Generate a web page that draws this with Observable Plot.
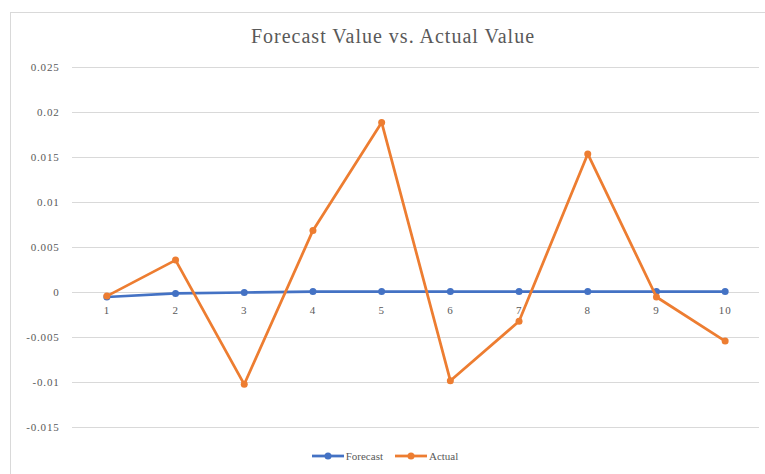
<!DOCTYPE html>
<html>
<head>
<meta charset="utf-8">
<script src="https://cdn.jsdelivr.net/npm/d3@7"></script>
<script src="https://cdn.jsdelivr.net/npm/@observablehq/plot@0.6"></script>
<style>
  html, body { margin: 0; padding: 0; background: #fff; }
  #wrap { position: relative; width: 765px; height: 474px; overflow: hidden; font-family: "Liberation Serif", "DejaVu Serif", serif; }
  #frame { position: absolute; left: 10px; top: 12px; width: 800px; height: 500px; border: 1px solid #d9d9d9; box-sizing: border-box; }
  #title { position: absolute; left: 0; width: 786px; top: 25px; text-align: center; font-size: 20px; color: #595959; letter-spacing: 1px; }
  #chart { position: absolute; left: 0; top: 0; }
  #chart svg text { font-family: "Liberation Serif", serif; letter-spacing: 0.8px; }
  #legend { position: absolute; top: 450px; left: 0; width: 770px; display: flex; justify-content: center; gap: 12px; font-size: 11px; color: #595959; align-items: center; }
  .item { display: flex; align-items: center; gap: 2px; }
</style>
</head>
<body>
<div id="wrap">
  <div id="frame"></div>
  <div id="title">Forecast Value vs. Actual Value</div>
  <div id="chart"></div>
  <div id="legend"></div>
</div>
<script>
const categories = ["1", "2", "3", "4", "5", "6", "7", "8", "9", "10"];
const forecast = [-0.0005, -0.0001, 0.0000, 0.0001, 0.0001, 0.0001, 0.0001, 0.0001, 0.0001, 0.0001];
const actual = [-0.0004, 0.0036, -0.0102, 0.0069, 0.0189, -0.0098, -0.0032, 0.0154, -0.0005, -0.0054];
const yTicks = [-0.015, -0.01, -0.005, 0, 0.005, 0.01, 0.015, 0.02, 0.025];
const seriesNames = ["Forecast", "Actual"];
const seriesColors = ["#4472C4", "#ED7D31"];

const rows = [];
categories.forEach((c, i) => {
  rows.push({cat: c, series: "Forecast", value: forecast[i]});
  rows.push({cat: c, series: "Actual", value: actual[i]});
});
const fRows = rows.filter(d => d.series === "Forecast");
const aRows = rows.filter(d => d.series === "Actual");

const fmt = d => String(+d.toFixed(3));

const chart = Plot.plot({
  width: 765,
  height: 474,
  marginLeft: 72,
  marginRight: 6,
  marginTop: 67,
  marginBottom: 47,
  style: {fontFamily: "Liberation Serif, serif", fontSize: "11px", color: "#595959", background: "transparent"},
  x: {type: "point", domain: categories, padding: 0.5, round: false, axis: null},
  y: {domain: [-0.015, 0.025], ticks: yTicks, tickFormat: fmt},
  marks: [
    Plot.gridY(yTicks, {stroke: "#d9d9d9", strokeOpacity: 1, strokeWidth: 1}),
    Plot.axisY(yTicks, {tickSize: 0, tickPadding: 13, tickFormat: fmt, fill: "#595959", fontSize: 11, fontFamily: "Liberation Serif, serif", label: null}),
    Plot.text(categories, {x: d => d, y: () => 0, dy: 18, text: d => d, fill: "#595959", fontSize: 11, fontFamily: "Liberation Serif, serif"}),
    Plot.line(fRows, {x: "cat", y: "value", stroke: seriesColors[0], strokeWidth: 2.75}),
    Plot.dot(fRows, {x: "cat", y: "value", r: 3.5, fill: seriesColors[0]}),
    Plot.line(aRows, {x: "cat", y: "value", stroke: seriesColors[1], strokeWidth: 2.75}),
    Plot.dot(aRows, {x: "cat", y: "value", r: 3.5, fill: seriesColors[1]})
  ]
});
document.getElementById("chart").appendChild(chart);

const legend = document.getElementById("legend");
seriesNames.forEach((name, i) => {
  const item = document.createElement("div");
  item.className = "item";
  item.innerHTML = `<svg width="32" height="10"><line x1="0" y1="5" x2="32" y2="5" stroke="${seriesColors[i]}" stroke-width="2.75"/><circle cx="16" cy="5" r="3.5" fill="${seriesColors[i]}"/></svg><span>${name}</span>`;
  legend.appendChild(item);
});
</script>
</body>
</html>
